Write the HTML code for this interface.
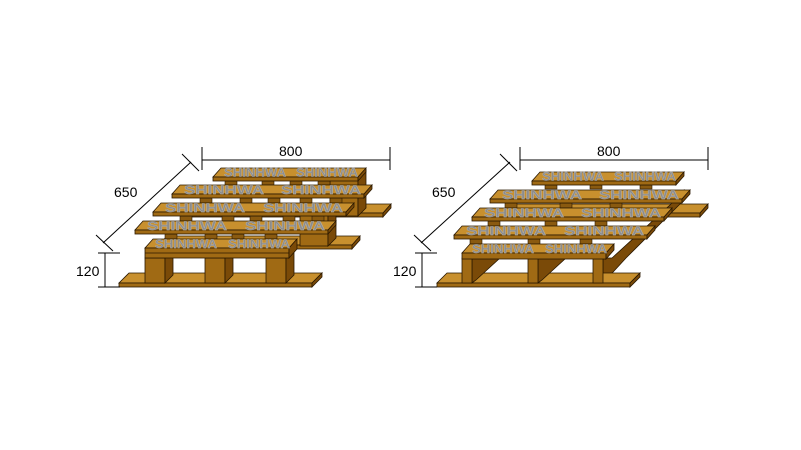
<!DOCTYPE html>
<html><head><meta charset="utf-8"><style>
html,body{margin:0;padding:0;background:#fff;width:801px;height:450px;overflow:hidden}
svg{display:block}
.t{fill:#c8902e;stroke:#2a1800;stroke-width:.8}
.f{fill:#a06a14;stroke:#2a1800;stroke-width:.8}
.s{fill:#7a4a08;stroke:#2a1800;stroke-width:.8}
.d{fill:#8a5a10;stroke:#2a1800;stroke-width:.6}
.w{font-family:"Liberation Sans",sans-serif;font-weight:bold;font-size:12px;fill:#8c8c8c;stroke:#b0b0b0;stroke-width:.4}
.n{font-family:"Liberation Sans",sans-serif;font-size:14px;fill:#000}
line{stroke:#000;stroke-width:1}
</style></head><body>
<svg width="801" height="450" viewBox="0 0 801 450" xmlns="http://www.w3.org/2000/svg">
<!-- ===== LEFT PALLET ===== -->
<polygon class="t" points="190,213 383,213 391,204 198,204"/><rect class="f" x="190" y="213" width="193" height="4"/><polygon class="s" points="383,213 391,204 391,208 383,217"/>
<polygon class="t" points="159,245 352,245 360,236 167,236"/><rect class="f" x="159" y="245" width="193" height="4"/><polygon class="s" points="352,245 360,236 360,240 352,249"/>
<rect class="f" x="330" y="178" width="28" height="38"/><polygon class="s" points="358,178 366,170 366,208 358,216"/>
<rect class="f" x="300" y="212" width="28" height="34"/><polygon class="s" points="328,212 336,204 336,238 328,246"/>
<rect class="d" x="225" y="181" width="12" height="4"/><rect class="d" x="262" y="181" width="12" height="4"/><rect class="d" x="290" y="181" width="12" height="4"/><rect class="d" x="318" y="181" width="12" height="4"/>
<rect class="d" x="200" y="198" width="12" height="5"/><rect class="d" x="240" y="198" width="12" height="5"/><rect class="d" x="268" y="198" width="12" height="5"/><rect class="d" x="300" y="198" width="12" height="5"/><rect class="d" x="330" y="198" width="12" height="5"/>
<rect class="d" x="180" y="216" width="12" height="5"/><rect class="d" x="222" y="216" width="12" height="5"/><rect class="d" x="250" y="216" width="12" height="5"/><rect class="d" x="283" y="216" width="12" height="5"/><rect class="d" x="312" y="216" width="12" height="5"/>
<rect class="d" x="165" y="234" width="12" height="5"/><rect class="d" x="205" y="234" width="12" height="5"/><rect class="d" x="232" y="234" width="12" height="5"/><rect class="d" x="265" y="234" width="12" height="5"/>
<polygon class="t" points="213,177 358,177 366,168 221,168"/><rect class="f" x="213" y="177" width="145" height="4"/><polygon class="s" points="358,177 366,168 366,172 358,181"/>
<text class="w" x="224" y="176.5" textLength="62" lengthAdjust="spacingAndGlyphs">SHINHWA</text><text class="w" x="296" y="176.5" textLength="62" lengthAdjust="spacingAndGlyphs">SHINHWA</text>
<polygon class="t" points="172,194 364,194 372,185 180,185"/><rect class="f" x="172" y="194" width="192" height="4"/><polygon class="s" points="364,194 372,185 372,189 364,198"/>
<text class="w" x="184" y="194" textLength="80" lengthAdjust="spacingAndGlyphs">SHINHWA</text><text class="w" x="281" y="194" textLength="80" lengthAdjust="spacingAndGlyphs">SHINHWA</text>
<polygon class="t" points="153,212 346,212 354,203 161,203"/><rect class="f" x="153" y="212" width="193" height="4"/><polygon class="s" points="346,212 354,203 354,207 346,216"/>
<text class="w" x="165" y="212" textLength="80" lengthAdjust="spacingAndGlyphs">SHINHWA</text><text class="w" x="263" y="212" textLength="80" lengthAdjust="spacingAndGlyphs">SHINHWA</text>
<polygon class="t" points="135,230 328,230 336,221 143,221"/><rect class="f" x="135" y="230" width="193" height="4"/><polygon class="s" points="328,230 336,221 336,225 328,234"/>
<text class="w" x="147" y="230" textLength="80" lengthAdjust="spacingAndGlyphs">SHINHWA</text><text class="w" x="245" y="230" textLength="80" lengthAdjust="spacingAndGlyphs">SHINHWA</text>
<polygon class="t" points="119,283 312,283 322,273 129,273"/><rect class="f" x="119" y="283" width="193" height="4"/><polygon class="s" points="312,283 322,273 322,277 312,287"/>
<rect class="f" x="145" y="258" width="20" height="25"/><polygon class="s" points="165,258 173,250 173,275 165,283"/>
<rect class="f" x="205" y="258" width="20" height="25"/><polygon class="s" points="225,258 233,250 233,275 225,283"/>
<rect class="f" x="266" y="258" width="20" height="25"/><polygon class="s" points="286,258 294,250 294,275 286,283"/>
<polygon class="t" points="145,248 289,248 297,239 153,239"/><rect class="f" x="145" y="248" width="144" height="10"/><line x1="145" y1="253" x2="289" y2="253" style="stroke:#2a1800;stroke-width:.8"/><polygon class="s" points="289,248 297,239 297,249 289,258"/>
<text class="w" x="155" y="248" textLength="62" lengthAdjust="spacingAndGlyphs">SHINHWA</text><text class="w" x="228" y="248" textLength="62" lengthAdjust="spacingAndGlyphs">SHINHWA</text>
<line x1="202" y1="160" x2="390" y2="160"/><line x1="202" y1="147" x2="202" y2="170"/><line x1="390" y1="147" x2="390" y2="170"/>
<text class="n" x="279" y="156">800</text>
<line x1="103" y1="243" x2="191" y2="162"/><line x1="182" y1="154" x2="199" y2="171"/><line x1="96" y1="235" x2="113" y2="251"/>
<text class="n" x="114" y="197">650</text>
<line x1="105" y1="253" x2="105" y2="287"/><line x1="98" y1="253" x2="120" y2="253"/><line x1="98" y1="287" x2="120" y2="287"/>
<text class="n" x="76" y="276">120</text>

<!-- ===== RIGHT PALLET ===== -->
<polygon class="t" points="507,213 700,213 708,204 515,204"/><rect class="f" x="507" y="213" width="193" height="4"/><polygon class="s" points="700,213 708,204 708,208 700,217"/>
<rect class="d" x="545" y="185" width="12" height="4"/><rect class="d" x="590" y="185" width="12" height="4"/><rect class="d" x="640" y="185" width="12" height="4"/>
<rect class="d" x="505" y="203" width="12" height="5"/><rect class="d" x="560" y="203" width="12" height="5"/><rect class="d" x="610" y="203" width="12" height="5"/>
<rect class="d" x="488" y="221" width="12" height="5"/><rect class="d" x="545" y="221" width="12" height="5"/><rect class="d" x="595" y="221" width="12" height="5"/>
<rect class="d" x="470" y="239" width="12" height="5"/><rect class="d" x="528" y="239" width="12" height="5"/><rect class="d" x="580" y="239" width="12" height="5"/>
<polygon class="s" points="603,258 612,258 670,205 684,190 684,200 626,258 603,283"/>
<polygon class="t" points="532,181 676,181 684,172 540,172"/><rect class="f" x="532" y="181" width="144" height="4"/><polygon class="s" points="676,181 684,172 684,176 676,185"/>
<text class="w" x="542" y="180.5" textLength="62" lengthAdjust="spacingAndGlyphs">SHINHWA</text><text class="w" x="614" y="180.5" textLength="62" lengthAdjust="spacingAndGlyphs">SHINHWA</text>
<polygon class="t" points="490,199 682,199 690,190 498,190"/><rect class="f" x="490" y="199" width="192" height="4"/><polygon class="s" points="682,199 690,190 690,194 682,203"/>
<text class="w" x="502" y="199" textLength="80" lengthAdjust="spacingAndGlyphs">SHINHWA</text><text class="w" x="599" y="199" textLength="80" lengthAdjust="spacingAndGlyphs">SHINHWA</text>
<polygon class="t" points="472,217 664,217 672,208 480,208"/><rect class="f" x="472" y="217" width="192" height="4"/><polygon class="s" points="664,217 672,208 672,212 664,221"/>
<text class="w" x="484" y="217" textLength="80" lengthAdjust="spacingAndGlyphs">SHINHWA</text><text class="w" x="581" y="217" textLength="80" lengthAdjust="spacingAndGlyphs">SHINHWA</text>
<polygon class="t" points="454,235 647,235 655,226 462,226"/><rect class="f" x="454" y="235" width="193" height="4"/><polygon class="s" points="647,235 655,226 655,230 647,239"/>
<text class="w" x="466" y="235" textLength="80" lengthAdjust="spacingAndGlyphs">SHINHWA</text><text class="w" x="564" y="235" textLength="80" lengthAdjust="spacingAndGlyphs">SHINHWA</text>
<polygon class="t" points="437,283 630,283 640,273 447,273"/><rect class="f" x="437" y="283" width="193" height="4"/><polygon class="s" points="630,283 640,273 640,277 630,287"/>
<polygon class="s" points="472,258 500,258 476,280 472,283"/>
<polygon class="s" points="538,258 566,258 542,280 538,283"/>
<rect class="f" x="462" y="258" width="10" height="25"/>
<rect class="f" x="528" y="258" width="10" height="25"/>
<rect class="f" x="593" y="258" width="10" height="25"/>
<polygon class="t" points="462,253 606,253 614,244 470,244"/><rect class="f" x="462" y="253" width="144" height="6"/><polygon class="s" points="606,253 614,244 614,250 606,259"/>
<text class="w" x="472" y="253" textLength="62" lengthAdjust="spacingAndGlyphs">SHINHWA</text><text class="w" x="545" y="253" textLength="62" lengthAdjust="spacingAndGlyphs">SHINHWA</text>
<line x1="520" y1="160" x2="708" y2="160"/><line x1="520" y1="147" x2="520" y2="170"/><line x1="708" y1="147" x2="708" y2="170"/>
<text class="n" x="597" y="156">800</text>
<line x1="421" y1="243" x2="510" y2="162"/><line x1="500" y1="154" x2="517" y2="171"/><line x1="414" y1="235" x2="431" y2="251"/>
<text class="n" x="432" y="197">650</text>
<line x1="422" y1="253" x2="422" y2="287"/><line x1="415" y1="253" x2="437" y2="253"/><line x1="415" y1="287" x2="437" y2="287"/>
<text class="n" x="393" y="276">120</text>
</svg>
</body></html>
